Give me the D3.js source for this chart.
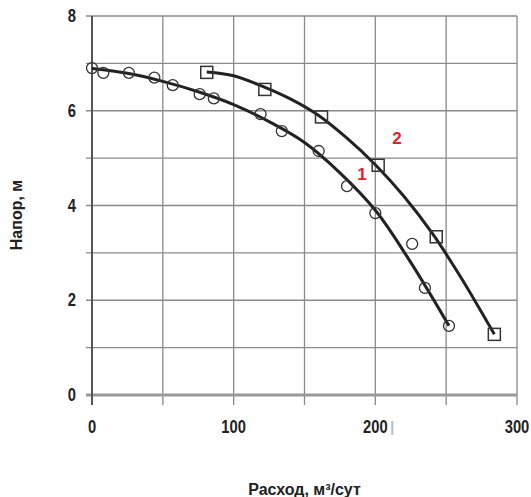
<!DOCTYPE html>
<html>
<head>
<meta charset="utf-8">
<script src="https://cdn.jsdelivr.net/npm/d3@7"></script>
<style>
  body { margin: 0; background: #fff; }
  text { font-family: "Liberation Sans Narrow", "Liberation Sans", Arial, sans-serif; font-weight: bold; }
</style>
</head>
<body>
<div id="chart"></div>
<script>
// Точки кривой 1 (кружки)
const flow1 = [0, 8, 26, 44, 57, 76, 86, 119, 134, 160, 180, 200, 226, 235, 252];
const head1 = [6.9, 6.8, 6.8, 6.7, 6.54, 6.35, 6.26, 5.93, 5.57, 5.15, 4.41, 3.84, 3.19, 2.26, 1.46];

// Точки кривой 2 (квадраты)
const flow2 = [81, 122, 162, 202, 243, 284];
const head2 = [6.81, 6.45, 5.87, 4.85, 3.34, 1.28];

// Линии аппроксимации
const fitFlow1 = [0, 25, 50, 75, 100, 125, 150, 175, 200, 225, 252];
const fitHead1 = [6.89, 6.79, 6.62, 6.4, 6.13, 5.77, 5.33, 4.69, 3.9, 2.8, 1.46];
const fitFlow2 = [81, 100, 120, 140, 160, 180, 200, 220, 240, 260, 284];
const fitHead2 = [6.82, 6.74, 6.52, 6.25, 5.9, 5.42, 4.86, 4.2, 3.42, 2.5, 1.28];

const xTicks = [0, 100, 200, 300];
const yTicks = [0, 2, 4, 6, 8];

const width = 531;
const height = 497;
const margin = { top: 16, right: 14, bottom: 102, left: 92 };

const svg = d3.select("#chart")
  .append("svg")
  .attr("width", width)
  .attr("height", height);

const x = d3.scaleLinear().domain([0, 300]).range([margin.left, width - margin.right]);
const y = d3.scaleLinear().domain([0, 8]).range([height - margin.bottom, margin.top]);

// Сетка
svg.append("g")
  .selectAll("line")
  .data(d3.range(1, 9))
  .join("line")
  .attr("x1", x(0) - 6)
  .attr("x2", x(300))
  .attr("y1", d => y(d))
  .attr("y2", d => y(d))
  .attr("stroke", "#8a8a8a")
  .attr("stroke-width", 1.3);

svg.append("g")
  .selectAll("line")
  .data(d3.range(50, 301, 50))
  .join("line")
  .attr("x1", d => x(d))
  .attr("x2", d => x(d))
  .attr("y1", y(8))
  .attr("y2", y(0) + 10)
  .attr("stroke", "#8a8a8a")
  .attr("stroke-width", 1.3);

// Оси
svg.append("line")
  .attr("x1", x(0) - 6).attr("x2", x(300))
  .attr("y1", y(0)).attr("y2", y(0))
  .attr("stroke", "#999").attr("stroke-width", 3);
svg.append("line")
  .attr("x1", x(0)).attr("x2", x(0))
  .attr("y1", y(8)).attr("y2", y(0) + 10)
  .attr("stroke", "#555").attr("stroke-width", 2);

// Подписи делений (узкий шрифт имитируется сжатием)
svg.append("g")
  .selectAll("text")
  .data(yTicks)
  .join("text")
  .attr("transform", d => `translate(${x(0) - 16},${y(d) + 6}) scale(0.82,1)`)
  .attr("text-anchor", "end")
  .attr("font-size", "18px")
  .attr("fill", "#222")
  .text(d => d);

svg.append("g")
  .selectAll("text")
  .data(xTicks)
  .join("text")
  .attr("transform", d => `translate(${x(d)},${y(0) + 38}) scale(0.82,1)`)
  .attr("text-anchor", "middle")
  .attr("font-size", "18px")
  .attr("fill", "#222")
  .text(d => d);

svg.append("text")
  .attr("x", x(200) + 15)
  .attr("y", y(0) + 37)
  .attr("font-size", "14px")
  .attr("font-weight", "normal")
  .attr("fill", "#bbb")
  .text("|");

// Кривые
const line = d3.line()
  .x(d => x(d[0]))
  .y(d => y(d[1]))
  .curve(d3.curveCatmullRom);

[[fitFlow1, fitHead1], [fitFlow2, fitHead2]].forEach(([fx, fy]) => {
  svg.append("path")
    .datum(d3.zip(fx, fy))
    .attr("fill", "none")
    .attr("stroke", "#222")
    .attr("stroke-width", 3)
    .attr("d", line);
});

// Маркеры
svg.append("g")
  .selectAll("circle")
  .data(d3.zip(flow1, head1))
  .join("circle")
  .attr("cx", d => x(d[0]))
  .attr("cy", d => y(d[1]))
  .attr("r", 5.5)
  .attr("fill", "none")
  .attr("stroke", "#333")
  .attr("stroke-width", 1.3);

svg.append("g")
  .selectAll("rect")
  .data(d3.zip(flow2, head2))
  .join("rect")
  .attr("x", d => x(d[0]) - 6)
  .attr("y", d => y(d[1]) - 6)
  .attr("width", 12)
  .attr("height", 12)
  .attr("fill", "none")
  .attr("stroke", "#333")
  .attr("stroke-width", 1.5);

// Номера кривых
svg.append("text")
  .attr("x", 362).attr("y", 180)
  .attr("text-anchor", "middle")
  .attr("font-size", "17px")
  .attr("fill", "#e3202b")
  .text("1");
svg.append("text")
  .attr("x", 397).attr("y", 144)
  .attr("text-anchor", "middle")
  .attr("font-size", "17px")
  .attr("fill", "#e3202b")
  .text("2");

// Названия осей
svg.append("text")
  .attr("x", (x(0) + x(300)) / 2)
  .attr("y", 495)
  .attr("text-anchor", "middle")
  .attr("font-size", "16px")
  .attr("fill", "#222")
  .text("Расход, м³/сут");

svg.append("text")
  .attr("transform", "translate(22,215) rotate(-90)")
  .attr("text-anchor", "middle")
  .attr("font-size", "16px")
  .attr("fill", "#222")
  .text("Напор, м");
</script>
</body>
</html>
